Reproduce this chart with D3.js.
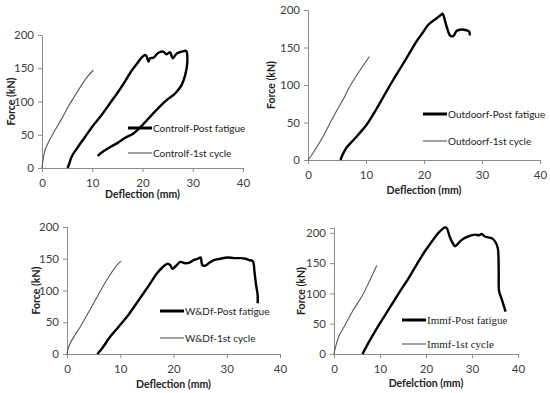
<!DOCTYPE html>
<html><head><meta charset="utf-8">
<script src="https://cdn.jsdelivr.net/npm/d3@7"></script>
<style>
body{margin:0;background:#fff;}
svg{display:block;}
</style></head>
<body>
<svg id="c" width="550" height="393"></svg>
<script>
// ---- data ----
const xTicks = [0, 10, 20, 30, 40];
const yTicks = [0, 50, 100, 150, 200];

const controlFirst = [[0,0],[0.2,12],[0.6,27],[1.5,42],[2.6,57],[4,75],[5.2,92],[6.5,108],[7.9,125],[9,137],[10.2,147]];
const controlPost = [[5.1,0],[5.4,6],[5.9,17],[7,30],[8.6,47],[10,62],[11.9,80],[13.5,97],[15.2,115],[16.5,130],[17.9,147],[19,158],[19.8,166],[20.5,170],[20.8,168],[21.2,160],[21.5,165],[22.2,166],[23.1,173],[24.1,175],[24.8,171],[25.5,174],[26,165],[26.8,172],[27.8,175],[28.7,176],[28.9,170],[28.9,157],[28.5,140],[27.8,125],[26.5,112],[24.8,102],[23,89],[21.5,77],[19.8,63],[18.2,52],[16.5,45],[14.9,37],[13,29],[11.5,21],[11.1,18]];

const outdoorFirst = [[0,0],[0.4,4],[1,11],[2.5,30],[4.4,58],[6,80],[7.2,98],[9,120],[10.6,138]];
const outdoorPost = [[5.6,0],[5.9,6],[6.6,16],[8,28],[10.1,47],[11.8,68],[13.5,91],[14.7,107],[15.9,122],[17.3,140],[18.7,158],[19.8,170],[20.7,180],[22.2,189],[23,194],[23.2,195],[23.9,178],[24.5,166],[25,165],[25.3,168],[25.6,172],[26.5,174],[27.3,173],[27.8,171],[27.9,166]];

const wdFirst = [[0,0],[0.2,8],[0.6,17],[1.5,30],[2.5,43],[5,80],[7.5,117],[9.7,143],[10.2,146]];
const wdPost = [[5.7,0],[6.5,8],[8.1,27],[9.7,43],[11.3,59],[12.9,78],[14.4,96],[15.7,112],[16.9,127],[18,137],[18.8,142],[19.4,140],[19.8,134],[20.5,139],[21.3,145],[22.2,143],[23,144],[23.8,148],[24.6,150],[25.1,152],[25.4,140],[25.9,139],[26.8,144],[27.6,148],[28.8,150],[30.1,152],[31.4,151],[32.6,151],[33.5,150],[34.2,148],[34.9,146],[35.2,130],[35.5,109],[35.8,93],[35.8,80]];

const immFirst = [[0,0],[0.3,10],[0.9,26],[2.4,48],[4,70],[6.4,100],[8,125],[9.3,146]];
const immPost = [[6.2,0],[7.3,16],[8.9,37],[10.6,58],[12.5,81],[14.3,103],[16.2,125],[18,148],[19.8,170],[21.3,186],[22.7,200],[24.1,209],[24.5,208],[25.1,195],[25.6,186],[26.3,178],[26.7,180],[27.7,188],[29.2,194],[30.7,197],[31.5,196],[32.1,198],[32.8,194],[34.3,191],[35,186],[35.6,175],[35.8,140],[35.9,103],[36.4,92],[37.3,70]];

const postLabels = ["Controlf-Post fatigue","Outdoorf-Post fatigue","W&Df-Post fatigue","Immf-Post fatigue"];
const firstLabels = ["Controlf-1st cycle","Outdoorf-1st cycle","W&Df-1st cycle","Immf-1st cycle"];
const xTitles = ["Deflection (mm)","Deflection (mm)","Deflection (mm)","Defelction (mm)"];
const yTitle = "Force (kN)";

// ---- layout ----
const panels = [
  {x0:42, x1:243, yTop:35, yBot:168, yMax:200, first:controlFirst, post:controlPost, yTitleX:11, xTitleY:198, legX:128, legY1:128, legY2:153, serif:false},
  {x0:308, x1:540, yTop:10, yBot:160, yMax:200, first:outdoorFirst, post:outdoorPost, yTitleX:271, xTitleY:194, legX:423, legY1:114, legY2:141, serif:false},
  {x0:67, x1:280, yTop:227, yBot:354, yMax:200, first:wdFirst, post:wdPost, yTitleX:36, xTitleY:388, legX:160, legY1:311, legY2:338, serif:false},
  {x0:334, x1:518, yTop:228, yBot:354, yMax:208, first:immFirst, post:immPost, yTitleX:301, xTitleY:387, legX:402, legY1:320, legY2:344, serif:true}
];

const svg = d3.select("#c");
const sans = "Lato, 'Open Sans', sans-serif";
const serif = "'Liberation Serif', 'Times New Roman', serif";

panels.forEach((p, i) => {
  const x = d3.scaleLinear().domain([0, 40]).range([p.x0, p.x1]);
  const y = d3.scaleLinear().domain([0, p.yMax]).range([p.yBot, p.yTop]);
  const g = svg.append("g");

  const xa = g.append("g").attr("transform", `translate(0,${p.yBot})`)
    .call(d3.axisBottom(x).tickValues(xTicks).tickSize(4).tickPadding(5));
  const ya = g.append("g").attr("transform", `translate(${p.x0},0)`)
    .call(d3.axisLeft(y).tickValues(yTicks).tickSize(4).tickPadding(4));
  [xa, ya].forEach(a => {
    a.select(".domain").attr("stroke", "#8c8c8c").attr("stroke-width", 1);
    a.selectAll(".tick line").attr("stroke", "#8c8c8c");
    a.selectAll(".tick text").attr("fill", "#404040").style("font-family", sans).style("font-size", "11.5px");
  });
  xa.selectAll(".tick text").attr("dy", "0.9em");

  g.append("text").attr("x", (p.x0 + p.x1) / 2).attr("y", p.xTitleY)
    .attr("text-anchor", "middle").style("font-family", sans).style("font-size", "10.5px")
    .style("font-weight", "bold").attr("fill", "#222").text(xTitles[i]);
  g.append("text").attr("transform", `translate(${p.yTitleX},${(p.yTop + p.yBot) / 2}) rotate(-90)`)
    .attr("text-anchor", "middle").attr("dy", "0.35em").style("font-family", sans).style("font-size", "10.5px")
    .style("font-weight", "bold").attr("fill", "#222").text(yTitle);

  const line = d3.line().x(d => x(d[0])).y(d => y(d[1])).curve(d3.curveCatmullRom.alpha(0.5));
  g.append("path").datum(p.first).attr("d", line).attr("fill", "none")
    .attr("stroke", "#555").attr("stroke-width", 1.1);
  g.append("path").datum(p.post).attr("d", line).attr("fill", "none")
    .attr("stroke", "#000").attr("stroke-width", 2.4).attr("stroke-linejoin", "round");

  const lf = p.serif ? serif : sans;
  const lfs = p.serif ? "11px" : "10px";
  g.append("line").attr("x1", p.legX).attr("x2", p.legX + 24).attr("y1", p.legY1).attr("y2", p.legY1)
    .attr("stroke", "#000").attr("stroke-width", 3);
  g.append("text").attr("x", p.legX + 25).attr("y", p.legY1).attr("dy", "0.35em")
    .style("font-family", lf).style("font-size", lfs).attr("fill", "#222").text(postLabels[i]);
  g.append("line").attr("x1", p.legX).attr("x2", p.legX + 24).attr("y1", p.legY2).attr("y2", p.legY2)
    .attr("stroke", "#555").attr("stroke-width", 1.1);
  g.append("text").attr("x", p.legX + 25).attr("y", p.legY2).attr("dy", "0.35em")
    .style("font-family", lf).style("font-size", lfs).attr("fill", "#222").text(firstLabels[i]);
});
</script>
</body></html>
